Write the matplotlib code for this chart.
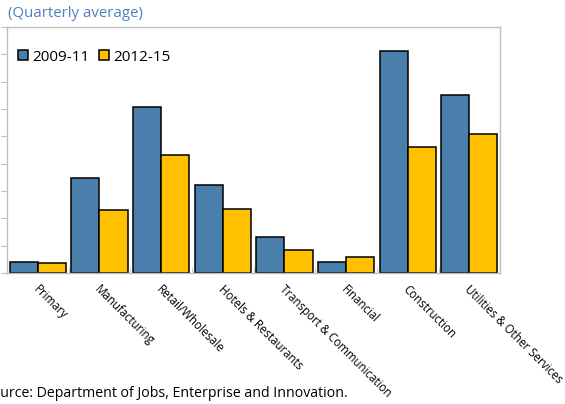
import numpy as np
import matplotlib.pyplot as plt

plt.rcParams['font.family'] = ['Open Sans', 'DejaVu Sans']

# data (relative units, axis has no labels)
sectors = ["Primary", "Manufacturing", "Retail/Wholesale", "Hotels & Restaurants",
           "Transport & Communication", "Financial", "Construction",
           "Utilities & Other Services"]
period_2009_11 = [0.39, 3.47, 6.09, 3.23, 1.33, 0.41, 8.12, 6.51]
period_2012_15 = [0.36, 2.32, 4.32, 2.33, 0.85, 0.59, 4.63, 5.08]

blue = '#4A7EAB'
yellow = '#FFC000'
grey = '#BFBFBF'

fig = plt.figure(figsize=(5.65, 4.04), dpi=100)
ax = fig.add_axes([0.0124, 0.324, 0.873, 0.609])

x = np.arange(len(sectors))
w = 0.455
ax.bar(x - w/2, period_2009_11, w, color=blue, edgecolor='black', linewidth=1.1,
       label='2009-11')
ax.bar(x + w/2, period_2012_15, w, color=yellow, edgecolor='black', linewidth=1.1,
       label='2012-15')

ax.set_xlim(-0.5, len(sectors) - 0.5)
ax.set_ylim(0, 9)

for s in ax.spines.values():
    s.set_color(grey)
    s.set_linewidth(1.0)

ax.set_yticks(np.arange(0, 10, 1))
ax.tick_params(axis='y', which='both', length=4, color=grey, labelleft=False)

ax.set_xticks(x + 0.03)
ax.set_xticklabels(sectors, rotation=-45, ha='left', va='top',
                   rotation_mode='anchor', fontsize=8.3)
ax.tick_params(axis='x', which='major', length=0, pad=7)
ax.set_xticks(np.arange(0.5, len(sectors) - 0.5, 1), minor=True)
ax.tick_params(axis='x', which='minor', direction='in', length=4, color=grey)

ax.legend(loc='upper left', bbox_to_anchor=(0.003, 0.945), frameon=False,
          fontsize=11, ncol=2, handlelength=0.65, handleheight=0.65,
          handletextpad=0.3, columnspacing=0.6, borderaxespad=0.2)

fig.text(0.014, 0.966, '(Quarterly average)', color='#4F81BD', fontsize=10.8,
         va='center', ha='left')
fig.text(0.616, 0.026, 'Source: Department of Jobs, Enterprise and Innovation.',
         fontsize=10.2, va='center', ha='right')

fig.savefig('out.png', dpi=100)
